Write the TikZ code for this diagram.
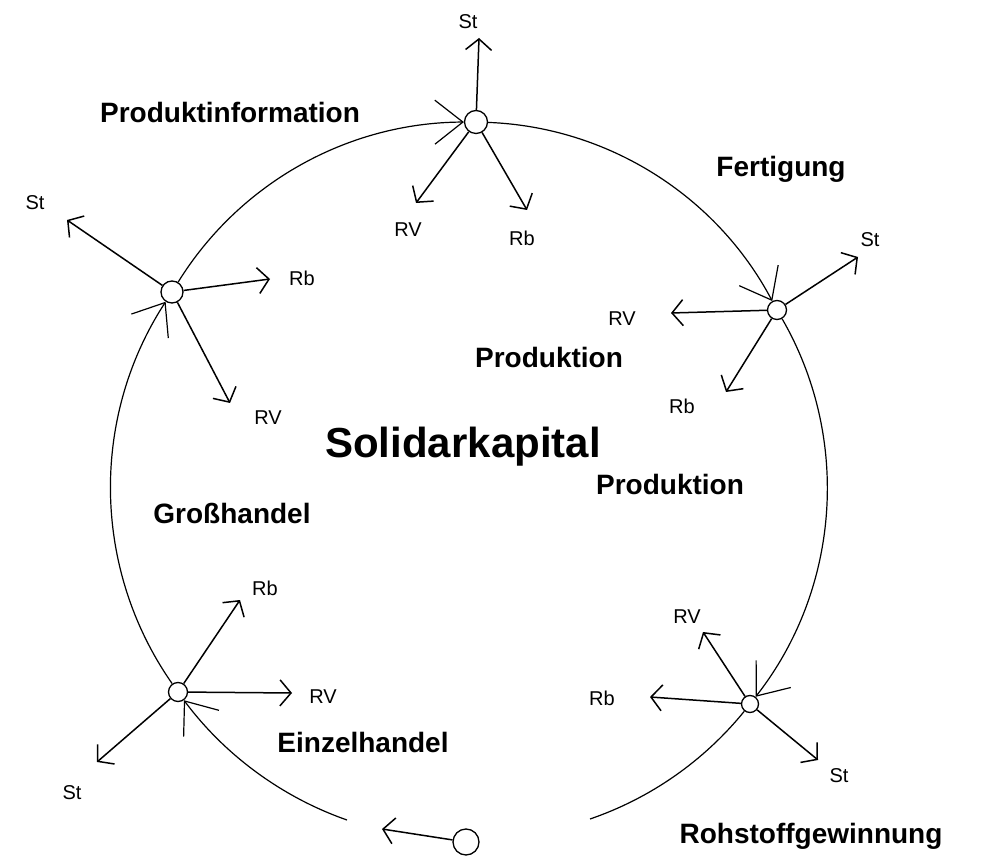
\documentclass[tikz,border=0pt]{standalone}
\usepackage{fontspec}
\setmainfont{Liberation Sans}
\usetikzlibrary{arrows.meta}

\tikzset{
  hub/.style={circle, draw, line width=1.3pt, fill=white, minimum size=19pt, inner sep=0pt},
  ring/.style={line width=1.2pt},
  ringarrow/.style={ring, -{Straight Barb[length=28pt, width=44pt]}},
  flow/.style={line width=1.5pt, -{Straight Barb[length=11pt, width=26pt]}},
  tag/.style={font=\fontsize{20}{24}\selectfont, inner sep=0pt},
  stage/.style={font=\fontsize{28}{32}\selectfont\bfseries, anchor=base, inner sep=0pt},
}

\begin{document}
\begin{tikzpicture}[x=1pt, y=1pt]
  \useasboundingbox (0,0) rectangle (981,862);
  % stations
  \node[hub, minimum size=23pt] (top) at (476,740) {};
  \node[hub, minimum size=22pt] (left) at (172,570) {};
  \node[hub] (right) at (777,552) {};
  \node[hub] (lowleft) at (178,170) {};
  \node[hub, minimum size=17pt] (lowright) at (750,158) {};
  \node[hub, minimum size=26pt] (start) at (466,20) {};
  \coordinate (endL) at (347,42);
  \coordinate (endR) at (590,43);
  % ring
  \draw[ringarrow] (endL) to[bend left=17, looseness=0.87] (lowleft);
  \draw[ringarrow] (lowleft) to[bend left=34, looseness=0.93] (left);
  \draw[ringarrow] (left) to[bend left=29, looseness=0.91] (top);
  \draw[ringarrow] (top) to[bend left=30, looseness=0.91] (right);
  \draw[ringarrow] (right) to[bend left=34, looseness=0.93] (lowright);
  \draw[ring] (lowright) to[bend left=16, looseness=0.87] (endR);
  \coordinate (startTip) at (382,33);
  \draw[flow] (start) -- (startTip);
  % arrow ends
  \coordinate (topSt) at (479,824);
  \coordinate (topRV) at (416,659);
  \coordinate (topRb) at (527,652);
  \coordinate (leftSt) at (67,642);
  \coordinate (leftRb) at (270,583);
  \coordinate (leftRV) at (230,459);
  \coordinate (rightSt) at (858,605);
  \coordinate (rightRV) at (671,549);
  \coordinate (rightRb) at (726,470);
  \coordinate (lowleftRb) at (240,262);
  \coordinate (lowleftRV) at (292,169);
  \coordinate (lowleftSt) at (97,100);
  \coordinate (lowrightRV) at (703,230);
  \coordinate (lowrightRb) at (650,165);
  \coordinate (lowrightSt) at (818,102);
  \draw[flow] (top) -- (topSt);
  \draw[flow] (top) -- (topRV);
  \draw[flow] (top) -- (topRb);
  \draw[flow] (left) -- (leftSt);
  \draw[flow] (left) -- (leftRb);
  \draw[flow] (left) -- (leftRV);
  \draw[flow] (right) -- (rightSt);
  \draw[flow] (right) -- (rightRV);
  \draw[flow] (right) -- (rightRb);
  \draw[flow] (lowleft) -- (lowleftRb);
  \draw[flow] (lowleft) -- (lowleftRV);
  \draw[flow] (lowleft) -- (lowleftSt);
  \draw[flow] (lowright) -- (lowrightRV);
  \draw[flow] (lowright) -- (lowrightRb);
  \draw[flow] (lowright) -- (lowrightSt);
  % small labels
  \node[tag] (tTopSt) at (468,840) {St};
  \node[tag] (tTopRV) at (408,632) {RV};
  \node[tag] (tTopRb) at (522,624) {Rb};
  \node[tag] (tLeftSt) at (35,659) {St};
  \node[tag] (tLeftRb) at (302,584) {Rb};
  \node[tag] (tLeftRV) at (268,444) {RV};
  \node[tag] (tRightSt) at (870,622) {St};
  \node[tag] (tRightRV) at (622,543) {RV};
  \node[tag] (tRightRb) at (682,456) {Rb};
  \node[tag] (tLowleftRb) at (265,274) {Rb};
  \node[tag] (tLowleftRV) at (323,165) {RV};
  \node[tag] (tLowleftSt) at (72,69) {St};
  \node[tag] (tLowrightRV) at (687,245) {RV};
  \node[tag] (tLowrightRb) at (602,164) {Rb};
  \node[tag] (tLowrightSt) at (839,86) {St};
  % stage names
  \node[stage] (info) at (230,739) {Produktinformation};
  \node[stage] (fert) at (781,685) {Fertigung};
  \node[stage] (prodA) at (549,494) {Produktion};
  \node[stage, font=\fontsize{42}{46}\selectfont\bfseries] (kapital) at (463,404) {Solidarkapital};
  \node[stage] (prodB) at (670,367) {Produktion};
  \node[stage] (gross) at (232,338) {Großhandel};
  \node[stage] (einzel) at (363,110) {Einzelhandel};
  \node[stage] (roh) at (811,19) {Rohstoffgewinnung};
\end{tikzpicture}
\end{document}
